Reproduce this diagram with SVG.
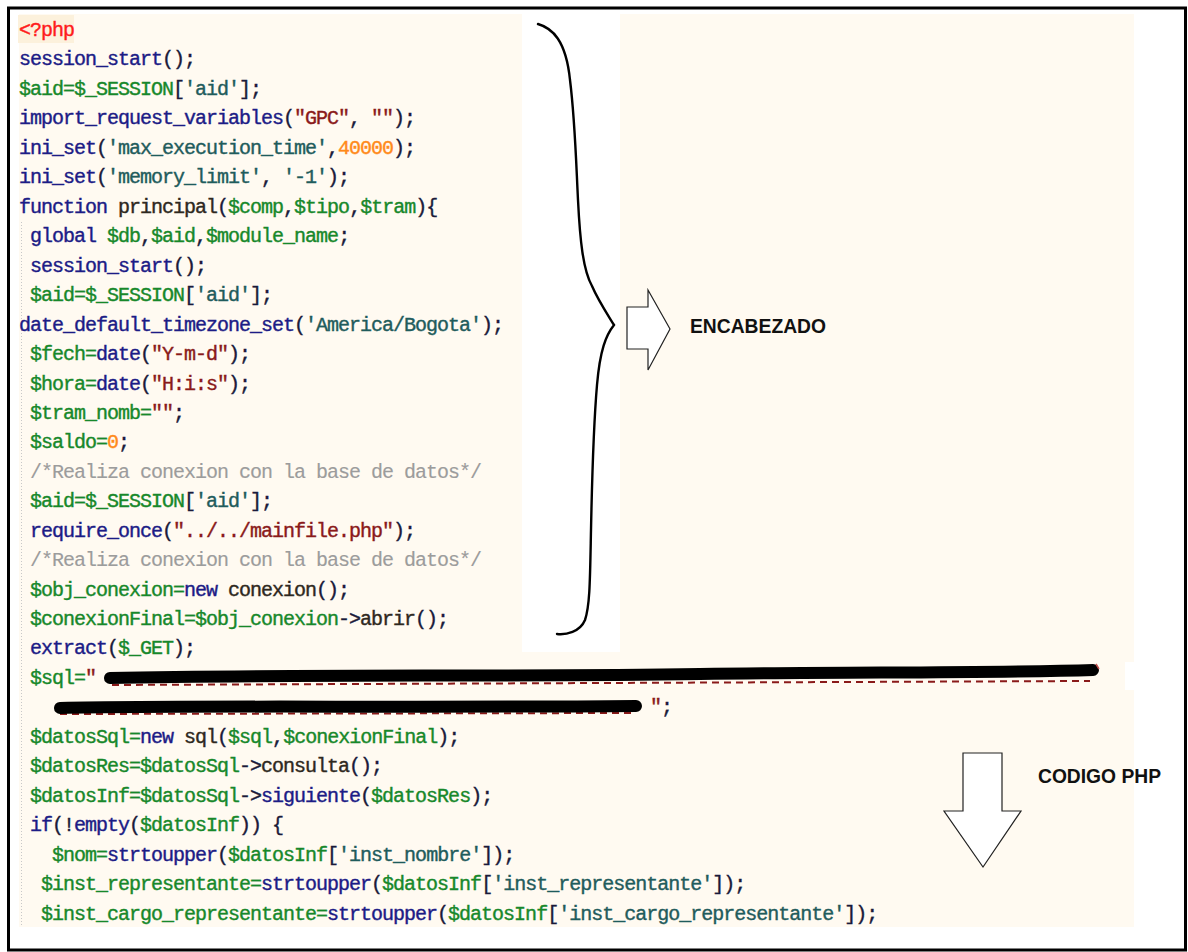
<svg xmlns="http://www.w3.org/2000/svg" width="1188" height="952" viewBox="0 0 1188 952" xml:space="preserve">
<style>
.code{font-family:"Liberation Mono","DejaVu Sans Mono",monospace;font-size:20px;letter-spacing:-1px;stroke-width:0.4px}
.tag{fill:#ff1c1c;stroke:#ff1c1c}
.k{fill:#1c1c86;stroke:#1c1c86}
.v{fill:#17882a;stroke:#17882a}
.s{fill:#1f5c5c;stroke:#1f5c5c}
.d{fill:#8a1a1a;stroke:#8a1a1a}
.n{fill:#ff8a1a;stroke:#ff8a1a}
.c{fill:#9c9c9c;stroke:#9c9c9c;stroke-width:0.15px}
.p{fill:#1a1a3a;stroke:#1a1a3a}
.o{fill:#2e2820;stroke:#2e2820}
.label{font-family:"Liberation Sans",Arial,sans-serif;font-weight:bold;font-size:21px;fill:#111}
.outline{fill:#fff;stroke:#222;stroke-width:1.2}
.redact{fill:none;stroke:#000;stroke-width:12;stroke-linecap:round;stroke-linejoin:round}
.bleed{fill:none;stroke:#8a1a1a;stroke-width:2;stroke-dasharray:7 5}
</style>

<!-- page and editor background -->
<rect x="0" y="0" width="1188" height="952" fill="#fff"/>
<rect x="19" y="14" width="1115" height="913" fill="#fffaf1"/>
<rect x="522" y="14" width="98" height="638" fill="#fff"/>
<rect x="1125" y="662" width="9" height="28" fill="#fff"/>
<rect x="18" y="15" width="56" height="28" fill="#fcf1dc"/>
<line x1="21.5" y1="222" x2="21.5" y2="925" stroke="#c8c8c8" stroke-width="1" stroke-dasharray="1 2"/>

<!-- PHP source listing -->
<g id="code" class="code">
<text x="19" y="36"><tspan class="tag">&lt;?php</tspan></text>
<text x="19" y="65"><tspan class="k">session_start</tspan><tspan class="p">();</tspan></text>
<text x="19" y="95"><tspan class="v">$aid</tspan><tspan class="v">=</tspan><tspan class="v">$_SESSION</tspan><tspan class="p">[</tspan><tspan class="s">'aid'</tspan><tspan class="p">];</tspan></text>
<text x="19" y="124"><tspan class="k">import_request_variables</tspan><tspan class="p">(</tspan><tspan class="d">"GPC"</tspan><tspan class="p">, </tspan><tspan class="d">""</tspan><tspan class="p">);</tspan></text>
<text x="19" y="154"><tspan class="k">ini_set</tspan><tspan class="p">(</tspan><tspan class="s">'max_execution_time'</tspan><tspan class="p">,</tspan><tspan class="n">40000</tspan><tspan class="p">);</tspan></text>
<text x="19" y="183"><tspan class="k">ini_set</tspan><tspan class="p">(</tspan><tspan class="s">'memory_limit'</tspan><tspan class="p">, </tspan><tspan class="s">'-1'</tspan><tspan class="p">);</tspan></text>
<text x="19" y="213"><tspan class="k">function</tspan><tspan class="p"> </tspan><tspan class="o">principal</tspan><tspan class="p">(</tspan><tspan class="v">$comp</tspan><tspan class="p">,</tspan><tspan class="v">$tipo</tspan><tspan class="p">,</tspan><tspan class="v">$tram</tspan><tspan class="p">){</tspan></text>
<text x="30" y="242"><tspan class="k">global</tspan><tspan class="p"> </tspan><tspan class="v">$db</tspan><tspan class="p">,</tspan><tspan class="v">$aid</tspan><tspan class="p">,</tspan><tspan class="v">$module_name</tspan><tspan class="p">;</tspan></text>
<text x="30" y="272"><tspan class="k">session_start</tspan><tspan class="p">();</tspan></text>
<text x="30" y="301"><tspan class="v">$aid=$_SESSION</tspan><tspan class="p">[</tspan><tspan class="s">'aid'</tspan><tspan class="p">];</tspan></text>
<text x="19" y="331"><tspan class="k">date_default_timezone_set</tspan><tspan class="p">(</tspan><tspan class="s">'America/Bogota'</tspan><tspan class="p">);</tspan></text>
<text x="30" y="360"><tspan class="v">$fech=</tspan><tspan class="k">date</tspan><tspan class="p">(</tspan><tspan class="d">"Y-m-d"</tspan><tspan class="p">);</tspan></text>
<text x="30" y="390"><tspan class="v">$hora=</tspan><tspan class="k">date</tspan><tspan class="p">(</tspan><tspan class="d">"H:i:s"</tspan><tspan class="p">);</tspan></text>
<text x="30" y="419"><tspan class="v">$tram_nomb=</tspan><tspan class="d">""</tspan><tspan class="p">;</tspan></text>
<text x="30" y="448"><tspan class="v">$saldo=</tspan><tspan class="n">0</tspan><tspan class="p">;</tspan></text>
<text x="30" y="478"><tspan class="c">/*Realiza conexion con la base de datos*/</tspan></text>
<text x="30" y="507"><tspan class="v">$aid=$_SESSION</tspan><tspan class="p">[</tspan><tspan class="s">'aid'</tspan><tspan class="p">];</tspan></text>
<text x="30" y="537"><tspan class="k">require_once</tspan><tspan class="p">(</tspan><tspan class="d">"../../mainfile.php"</tspan><tspan class="p">);</tspan></text>
<text x="30" y="566"><tspan class="c">/*Realiza conexion con la base de datos*/</tspan></text>
<text x="30" y="596"><tspan class="v">$obj_conexion=</tspan><tspan class="k">new</tspan><tspan class="p"> </tspan><tspan class="o">conexion</tspan><tspan class="p">();</tspan></text>
<text x="30" y="625"><tspan class="v">$conexionFinal=$obj_conexion</tspan><tspan class="p">-&gt;</tspan><tspan class="o">abrir</tspan><tspan class="p">();</tspan></text>
<text x="30" y="654"><tspan class="k">extract</tspan><tspan class="p">(</tspan><tspan class="v">$_GET</tspan><tspan class="p">);</tspan></text>
<text x="30" y="684"><tspan class="v">$sql=</tspan><tspan class="d">"</tspan></text>
<text x="650" y="713"><tspan class="d">"</tspan><tspan class="p">;</tspan></text>
<text x="30" y="743"><tspan class="v">$datosSql=</tspan><tspan class="k">new</tspan><tspan class="p"> </tspan><tspan class="o">sql</tspan><tspan class="p">(</tspan><tspan class="v">$sql</tspan><tspan class="p">,</tspan><tspan class="v">$conexionFinal</tspan><tspan class="p">);</tspan></text>
<text x="30" y="772"><tspan class="v">$datosRes=$datosSql</tspan><tspan class="p">-&gt;</tspan><tspan class="o">consulta</tspan><tspan class="p">();</tspan></text>
<text x="30" y="802"><tspan class="v">$datosInf=$datosSql</tspan><tspan class="p">-&gt;</tspan><tspan class="k">siguiente</tspan><tspan class="p">(</tspan><tspan class="v">$datosRes</tspan><tspan class="p">);</tspan></text>
<text x="30" y="831"><tspan class="k">if</tspan><tspan class="p">(!</tspan><tspan class="k">empty</tspan><tspan class="p">(</tspan><tspan class="v">$datosInf</tspan><tspan class="p">)) {</tspan></text>
<text x="52" y="861"><tspan class="v">$nom=</tspan><tspan class="k">strtoupper</tspan><tspan class="p">(</tspan><tspan class="v">$datosInf</tspan><tspan class="p">[</tspan><tspan class="s">'inst_nombre'</tspan><tspan class="p">]);</tspan></text>
<text x="41" y="890"><tspan class="v">$inst_representante=</tspan><tspan class="k">strtoupper</tspan><tspan class="p">(</tspan><tspan class="v">$datosInf</tspan><tspan class="p">[</tspan><tspan class="s">'inst_representante'</tspan><tspan class="p">]);</tspan></text>
<text x="41" y="920"><tspan class="v">$inst_cargo_representante=</tspan><tspan class="k">strtoupper</tspan><tspan class="p">(</tspan><tspan class="v">$datosInf</tspan><tspan class="p">[</tspan><tspan class="s">'inst_cargo_representante'</tspan><tspan class="p">]);</tspan></text>
</g>

<!-- blacked-out SQL string -->
<g id="redaction">
<path class="bleed" d="M112 685 L1090 681"/>
<path class="bleed" d="M60 714 L634 713"/>
<path class="redact" d="M110 678 C300 674 500 677 700 674 C850 672 1000 673 1093 670"/>
<path class="redact" d="M60 708 C200 705 400 708 636 706"/>
<path d="M1096 664 l3 5" stroke="#c0504d" stroke-width="1.5"/>
</g>

<!-- callouts: brace + arrows -->
<g id="connectors" fill="none" stroke="#000">
<path stroke-width="2.4" stroke-linecap="round" d="M538 24 C552 28 566 40 570 80 C575 120 576 160 578 200 C580 240 583 270 592 286 C598 300 606 312 614 325 C606 335 600 350 597 385 C594 420 592 480 591 530 C590 580 590 605 585 620 C580 632 566 635 557 634"/>
<path id="arrow-right" class="outline" d="M627 307 L648 307 L648 290 L670 329 L648 370 L648 349 L627 349 Z"/>
<path id="arrow-down" class="outline" d="M963 753 L1002 753 L1002 811 L1021 811 L983 867 L944 811 L963 811 Z"/>
</g>

<g id="encabezado">
<text class="label" x="690" y="333" textLength="136" lengthAdjust="spacingAndGlyphs">ENCABEZADO</text>
</g>
<g id="codigo-php">
<text class="label" x="1038" y="783" textLength="123" lengthAdjust="spacingAndGlyphs">CODIGO PHP</text>
</g>

<!-- frame -->
<rect x="8.5" y="8" width="1177" height="942" fill="none" stroke="#000" stroke-width="3"/>
</svg>
